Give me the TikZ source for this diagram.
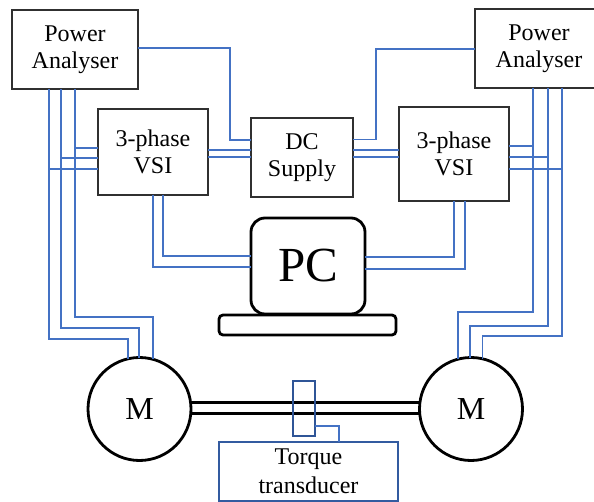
\documentclass[tikz,border=0pt]{standalone}
\usepackage{fontspec}
\setmainfont{Liberation Serif}
\newfontfamily\tnr{Liberation Serif}
\definecolor{wireblue}{HTML}{4472C4}
\definecolor{darkblue}{HTML}{2F5597}
\definecolor{boxgray}{HTML}{303030}
\begin{document}
\begin{tikzpicture}[x=1pt,y=-1pt,
  box/.style={draw=boxgray, line width=1.2pt, inner sep=0pt, outer sep=0pt, align=center,
              font=\tnr\fontsize{24}{27}\selectfont},
  wire/.style={draw=wireblue, line width=1.8pt},
  motor/.style={circle, draw=black, line width=2.8pt, minimum size=103pt, inner sep=0pt, outer sep=0pt,
                font=\tnr\fontsize{32}{32}\selectfont},
  shaft/.style={draw=black, line width=2.8pt},
  thick/.style={draw=black, line width=2.8pt, inner sep=0pt, outer sep=0pt}]
\useasboundingbox (0,0) rectangle (594,502);
\clip (0,0) rectangle (594,502);

% boxes
\node[box, minimum width=126pt, minimum height=79pt] (PA1) at (75,49.5) {Power\\Analyser};
\node[box, minimum width=128pt, minimum height=79pt] (PA2) at (539,48.5) {Power\\Analyser};
\node[box, minimum width=110pt, minimum height=86pt] (VSI1) at (153,152) {3-phase\\VSI};
\node[box, minimum width=110pt, minimum height=94pt] (VSI2) at (454,154) {3-phase\\VSI};
\node[box, minimum width=102pt, minimum height=79pt] (DC) at (302,157.5) {DC\\Supply};

% PC
\node[thick, rounded corners=14pt, minimum width=114pt, minimum height=96pt,
      font=\tnr\fontsize{49}{49}\selectfont] (PC) at (308,266) {PC};
\node[thick, rounded corners=4pt, minimum width=177pt, minimum height=20pt] (base) at (307.5,325) {};

% motors
\node[motor] (M1) at (139.5,409) {M};
\node[motor] (M2) at (471,409) {M};

% shaft
\draw[shaft] (M1.7) -- (M2.173);
\draw[shaft] (M1.-5) -- (M2.-175);

% torque transducer
\node[draw=darkblue, line width=2pt, minimum width=22pt, minimum height=55pt, inner sep=0pt, outer sep=0pt] (TQ) at (304,408.5) {};
\node[draw=darkblue!80!wireblue, line width=1.1pt, minimum width=179pt, minimum height=59pt, inner sep=0pt, outer sep=0pt,
      align=center, font=\tnr\fontsize{24}{29}\selectfont] (TB) at (308.5,471.5) {Torque\\transducer};
\coordinate (tq) at (339,426);
\draw[wire, line width=1.3pt] (TQ.east |- tq) -- (tq) -- (tq |- TB.north);

% ---------- left side wires ----------
\coordinate (l1) at (49.3,339.3);
\coordinate (l2) at (61,327.7);
\coordinate (l3) at (74.7,317.3);
\draw[wire] (PA1.south -| l1) -- (l1) -| (M1.103);
\draw[wire] (PA1.south -| l2) -- (l2) -| (M1.91);
\draw[wire] (PA1.south -| l3) -- (l3) -| (M1.75);
\coordinate (h3) at (74.7,147.7);
\coordinate (h2) at (61,158);
\coordinate (h1) at (49.3,169);
\draw[wire] (h3) -- (h3 -| VSI1.west);
\draw[wire] (h2) -- (h2 -| VSI1.west);
\draw[wire] (h1) -- (h1 -| VSI1.west);

% PA1 to DC
\coordinate (pd1) at (230,48);
\coordinate (pd2) at (230,140);
\draw[wire] (PA1.east |- pd1) -- (pd1) -- (pd2) -- (pd2 -| DC.west);

% VSI1 to DC
\coordinate (ya) at (0,150);
\coordinate (yb) at (0,156.7);
\draw[wire] (VSI1.east |- ya) -- (DC.west |- ya);
\draw[wire] (VSI1.east |- yb) -- (DC.west |- yb);

% VSI1 to PC
\coordinate (p1) at (153.3,266.7);
\coordinate (p2) at (163.3,255.7);
\draw[wire] (VSI1.south -| p1) -- (p1) -- (p1 -| PC.west);
\draw[wire] (VSI1.south -| p2) -- (p2) -- (p2 -| PC.west);

% ---------- right side wires ----------
\coordinate (rd1) at (376,49.3);
\coordinate (rd2) at (376,139.5);
\draw[wire] (PA2.west |- rd1) -- (rd1) -- (rd2) -- (rd2 -| DC.east);
\draw[wire] (DC.east |- ya) -- (VSI2.west |- ya);
\draw[wire] (DC.east |- yb) -- (VSI2.west |- yb);

\coordinate (r1) at (533.3,312.3);
\coordinate (r2) at (547.7,326);
\coordinate (r3) at (561.7,335.7);
\draw[wire] (PA2.south -| r1) -- (r1) -| (M2.105);
\draw[wire] (PA2.south -| r2) -- (r2) -| (M2.91);
\draw[wire] (PA2.south -| r3) -- (r3) -| (M2.77);
\coordinate (k1) at (533.3,145.7);
\coordinate (k2) at (547.7,156.7);
\coordinate (k3) at (561.7,169.3);
\draw[wire] (VSI2.east |- k1) -- (k1);
\draw[wire] (VSI2.east |- k2) -- (k2);
\draw[wire] (VSI2.east |- k3) -- (k3);

% VSI2 to PC
\coordinate (q1) at (454.3,256.7);
\coordinate (q2) at (465.3,269);
\draw[wire] (VSI2.south -| q1) -- (q1) -- (q1 -| PC.east);
\draw[wire] (VSI2.south -| q2) -- (q2) -- (q2 -| PC.east);
\end{tikzpicture}
\end{document}
